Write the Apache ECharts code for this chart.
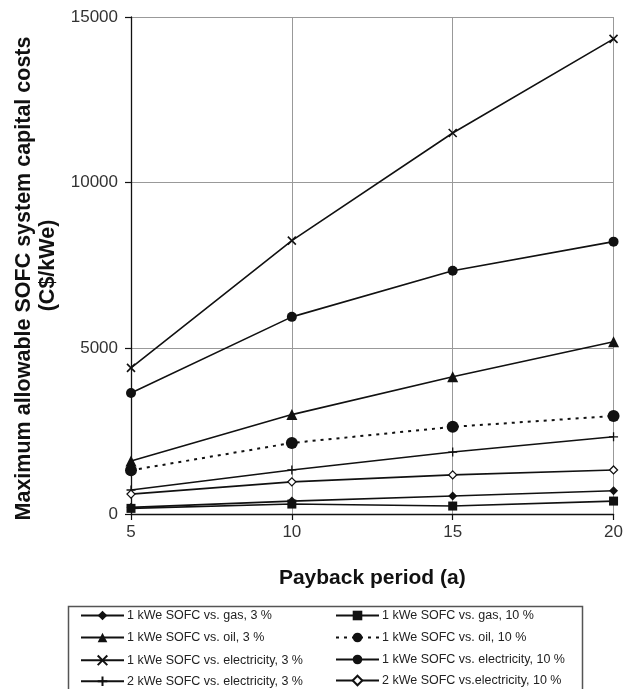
<!DOCTYPE html>
<html><head><meta charset="utf-8">
<script src="https://cdn.jsdelivr.net/npm/echarts@6/dist/echarts.min.js"></script>
<style>html,body{margin:0;padding:0;background:#fff}#c{width:626px;height:689px}</style>
</head><body><div id="c"></div>
<script>
const payback = [5, 10, 15, 20];
const gas3 = [200, 390, 545, 700];
const gas10 = [170, 300, 240, 390];
const oil3 = [1600, 3000, 4140, 5200];
const oil10 = [1320, 2145, 2630, 2960];
const elec3 = [4410, 8250, 11500, 14340];
const elec10 = [3650, 5950, 7340, 8220];
const kw2elec3 = [725, 1330, 1870, 2330];
const kw2elec10 = [600, 970, 1180, 1330];
const yTicks = [0, 5000, 10000, 15000];

const names = {
  gas3: '1 kWe SOFC vs. gas, 3 %',
  gas10: '1 kWe SOFC vs. gas, 10 %',
  oil3: '1 kWe SOFC vs. oil, 3 %',
  oil10: '1 kWe SOFC vs. oil, 10 %',
  elec3: '1 kWe SOFC vs. electricity, 3 %',
  elec10: '1 kWe SOFC vs. electricity, 10 %',
  kw2elec3: '2 kWe SOFC vs. electricity, 3 %',
  kw2elec10: '2 kWe SOFC vs.electricity, 10 %'
};

const pairs = arr => payback.map((x, i) => [x, arr[i]]);
const FONT = '"Liberation Sans", Arial, Helvetica, sans-serif';

function mk(name, data, symbol, size, opts) {
  opts = opts || {};
  return {
    name: name, type: 'line', data: pairs(data),
    symbol: symbol, symbolSize: size, showSymbol: true,
    lineStyle: Object.assign({ color: '#111', width: 1.6, type: 'solid' }, opts.line || {}),
    itemStyle: Object.assign({ color: '#111', borderColor: '#111', borderWidth: 0 }, opts.item || {}),
    emphasis: { disabled: true },
    z: opts.z || 2
  };
}

const XPATH = 'path://M0,0L10,10M10,0L0,10';
const PLUS = 'path://M5,0L5,10M0,5L10,5';

const series = [
  mk(names.gas3, gas3, 'diamond', 9),
  mk(names.oil3, oil3, 'triangle', 11),
  mk(names.elec3, elec3, XPATH, 8, { item: { color: 'none', borderWidth: 1.6 } }),
  mk(names.kw2elec3, kw2elec3, PLUS, 9, { item: { color: 'none', borderWidth: 1.3 } }),
  mk(names.gas10, gas10, 'rect', 9),
  mk(names.oil10, oil10, 'circle', 12, { line: { type: [3, 5], width: 2 } }),
  mk(names.elec10, elec10, 'circle', 10),
  mk(names.kw2elec10, kw2elec10, 'diamond', 8, { item: { color: '#fff', borderColor: '#111', borderWidth: 1.3 } })
];

const leftCol = [names.gas3, names.oil3, names.elec3, names.kw2elec3];
const rightCol = [names.gas10, names.oil10, names.elec10, names.kw2elec10];
const rowCenters = [615, 637, 659, 680];

function legendItem(name, left, row) {
  return {
    orient: 'horizontal', left: left, top: rowCenters[row] - 6, padding: 0,
    itemWidth: 43, itemHeight: 12, selectedMode: false, data: [name],
    textStyle: { fontFamily: FONT, fontSize: 12.5, color: '#222', lineHeight: 12, padding: [0, 0, 0, -2] }
  };
}
const legends = [];
leftCol.forEach((n, i) => legends.push(legendItem(n, 80, i)));
rightCol.forEach((n, i) => legends.push(legendItem(n, 335, i)));

const nameFont = { fontFamily: FONT, fontSize: 21.5, fontWeight: 'bold', color: '#111', lineHeight: 24 };

const option = {
  backgroundColor: '#fff',
  animation: false,
  grid: { left: 131, right: 11, top: 17, bottom: 175, containLabel: false },
  legend: legends,
  xAxis: {
    type: 'value', min: payback[0], max: payback[payback.length - 1], interval: 5,
    name: 'Payback period (a)', nameLocation: 'middle', nameGap: 54,
    nameTextStyle: { fontFamily: FONT, fontSize: 21, fontWeight: 'bold', color: '#111' },
    axisLine: { show: true, onZero: false, lineStyle: { color: '#111', width: 1.3 } },
    axisTick: { show: true, length: 6, lineStyle: { color: '#111', width: 1.2 } },
    axisLabel: { fontFamily: FONT, fontSize: 17, color: '#333', margin: 10 },
    splitLine: { show: true, lineStyle: { color: '#999', width: 1 } }
  },
  yAxis: {
    type: 'value', min: yTicks[0], max: yTicks[yTicks.length - 1], interval: 5000,
    name: '{a|Maximum allowable SOFC system capital costs}\n{b|(C$/kWe)}',
    nameLocation: 'middle', nameGap: 68, nameRotate: 90,
    nameTextStyle: Object.assign({}, nameFont, {
      align: 'center',
      rich: {
        a: Object.assign({}, nameFont, { padding: [0, 26, 0, 0] }),
        b: Object.assign({}, nameFont)
      }
    }),
    axisLine: { show: true, lineStyle: { color: '#111', width: 1.3 } },
    axisTick: { show: true, length: 6, lineStyle: { color: '#111', width: 1.2 } },
    axisLabel: { fontFamily: FONT, fontSize: 17, color: '#333', margin: 13, formatter: v => String(v) },
    splitLine: { show: true, lineStyle: { color: '#999', width: 1 } }
  },
  graphic: [{
    type: 'rect', left: 66, top: 604, silent: true, z: -1,
    shape: { width: 514, height: 100 },
    style: { fill: 'none', stroke: '#555', lineWidth: 1.5 }
  }],
  series: series
};

const chart = echarts.init(document.getElementById('c'), null, { renderer: 'canvas' });
chart.setOption(option);
</script>
</body></html>
